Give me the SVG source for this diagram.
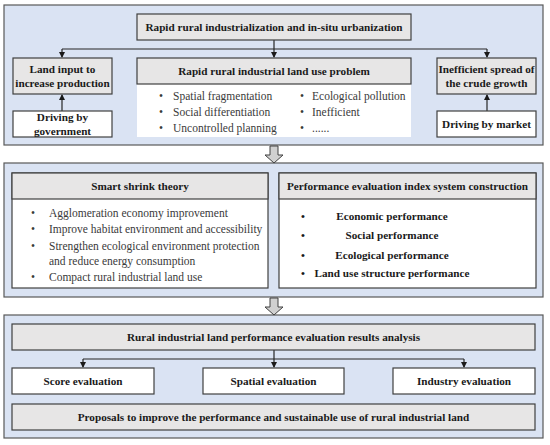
<svg xmlns="http://www.w3.org/2000/svg" width="550" height="445" viewBox="0 0 550 445">
<style>
.panel{fill:#dae3f3;stroke:#595959;stroke-width:1.2}
.gray{fill:#e7e6e6;stroke:#404040;stroke-width:1.2}
.white{fill:#ffffff;stroke:#404040;stroke-width:1.2}
.plain{fill:#ffffff;stroke:none}
.t{font-family:"Liberation Serif","DejaVu Serif",serif;font-size:11.2px;font-weight:bold;fill:#1a1a1a;text-anchor:middle}
.b{font-family:"Liberation Serif","DejaVu Serif",serif;font-size:11.5px;fill:#3a3a3a}
.bb{font-family:"Liberation Serif","DejaVu Serif",serif;font-size:11.2px;font-weight:bold;fill:#1a1a1a}
.line{fill:none;stroke:#262626;stroke-width:1.2}
.big{fill:#d0d0d0;stroke:#404040;stroke-width:1}
</style>
<defs>
<marker id="ah" markerWidth="6" markerHeight="6" refX="5" refY="3" orient="auto" markerUnits="userSpaceOnUse">
<path d="M0,0 L6,3 L0,6 Z" fill="#1a1a1a"/>
</marker>
</defs>

<g id="panel1"><rect class="panel" x="4" y="5" width="539" height="140"/></g>
<g id="panel2"><rect class="panel" x="4" y="163" width="539" height="134"/></g>
<g id="panel3"><rect class="panel" x="4" y="315" width="539" height="123"/></g>

<g id="connectors">
<path class="line" d="M274,40 V57" marker-end="url(#ah)"/>
<path class="line" d="M62,49 H487"/>
<path class="line" d="M62,49 V57" marker-end="url(#ah)"/>
<path class="line" d="M487,49 V57" marker-end="url(#ah)"/>
<path class="line" d="M62,111 V95" marker-end="url(#ah)"/>
<path class="line" d="M487,111 V95" marker-end="url(#ah)"/>
<path class="line" d="M274,350 V367" marker-end="url(#ah)"/>
<path class="line" d="M83,359 H464"/>
<path class="line" d="M83,359 V367" marker-end="url(#ah)"/>
<path class="line" d="M464,359 V367" marker-end="url(#ah)"/>
<path class="big" d="M270,146 H278 V155 H283 L274,163 L265,155 H270 Z"/>
<path class="big" d="M270,298 H278 V307 H283 L274,315 L265,307 H270 Z"/>
</g>

<g id="top">
<rect class="gray" x="137" y="14" width="274" height="26"/>
<text class="t" x="274" y="31">Rapid rural industrialization and in-situ urbanization</text>
</g>

<g id="landinput">
<rect class="gray" x="13" y="58" width="99" height="36"/>
<text class="t" x="62.5" y="73">Land input to</text>
<text class="t" x="62.5" y="87">increase production</text>
</g>

<g id="gov">
<rect class="white" x="13" y="111" width="99" height="26"/>
<text class="t" x="62.5" y="121">Driving by</text>
<text class="t" x="62.5" y="134.5">government</text>
</g>

<g id="problem">
<rect class="plain" x="137" y="84" width="274" height="53"/>
<rect class="gray" x="137" y="58" width="274" height="26"/>
<text class="t" x="274" y="75">Rapid rural industrial land use problem</text>
<text class="b" x="159" y="100">•</text><text class="b" x="173" y="100">Spatial fragmentation</text>
<text class="b" x="159" y="116">•</text><text class="b" x="173" y="116">Social differentiation</text>
<text class="b" x="159" y="132">•</text><text class="b" x="173" y="132">Uncontrolled planning</text>
<text class="b" x="300" y="100">•</text><text class="b" x="312" y="100">Ecological pollution</text>
<text class="b" x="300" y="116">•</text><text class="b" x="312" y="116">Inefficient</text>
<text class="b" x="300" y="132">•</text><text class="b" x="312" y="132">......</text>
</g>

<g id="inefficient">
<rect class="gray" x="437" y="58" width="99" height="36"/>
<text class="t" x="486.5" y="73">Inefficient spread of</text>
<text class="t" x="486.5" y="87">the crude growth</text>
</g>

<g id="market">
<rect class="white" x="437" y="111" width="99" height="26"/>
<text class="t" x="486.5" y="128">Driving by market</text>
</g>

<g id="smart">
<rect class="white" x="12" y="173" width="256" height="115"/>
<rect class="gray" x="12" y="173" width="256" height="26"/>
<text class="t" x="140" y="190">Smart shrink theory</text>
<text class="b" x="31" y="217">•</text><text class="b" x="49" y="217">Agglomeration economy improvement</text>
<text class="b" x="31" y="233">•</text><text class="b" x="49" y="233">Improve habitat environment and accessibility</text>
<text class="b" x="31" y="250">•</text><text class="b" x="49" y="250">Strengthen ecological environment protection</text>
<text class="b" x="49" y="265">and reduce energy consumption</text>
<text class="b" x="31" y="281">•</text><text class="b" x="49" y="281">Compact rural industrial land use</text>
</g>

<g id="perf">
<rect class="white" x="279" y="173" width="257" height="115"/>
<rect class="gray" x="279" y="173" width="257" height="26"/>
<text class="t" x="407.5" y="190">Performance evaluation index system construction</text>
<text class="bb" x="301" y="220">•</text><text class="t" x="392" y="220">Economic performance</text>
<text class="bb" x="301" y="239">•</text><text class="t" x="392" y="239">Social performance</text>
<text class="bb" x="301" y="259">•</text><text class="t" x="392" y="259">Ecological performance</text>
<text class="bb" x="301" y="277">•</text><text class="t" x="392" y="277">Land use structure performance</text>
</g>

<g id="results">
<rect class="gray" x="12" y="324" width="523" height="26"/>
<text class="t" x="273.5" y="341">Rural industrial land performance evaluation results analysis</text>
</g>

<g id="score">
<rect class="white" x="12" y="368" width="142" height="26"/>
<text class="t" x="83" y="385">Score evaluation</text>
</g>

<g id="spatial">
<rect class="white" x="203" y="368" width="141" height="26"/>
<text class="t" x="273.5" y="385">Spatial evaluation</text>
</g>

<g id="industry">
<rect class="white" x="393" y="368" width="142" height="26"/>
<text class="t" x="464" y="385">Industry evaluation</text>
</g>

<g id="proposals">
<rect class="gray" x="12" y="404" width="523" height="26"/>
<text class="t" x="273.5" y="421">Proposals to improve the performance and sustainable use of rural industrial land</text>
</g>
</svg>
